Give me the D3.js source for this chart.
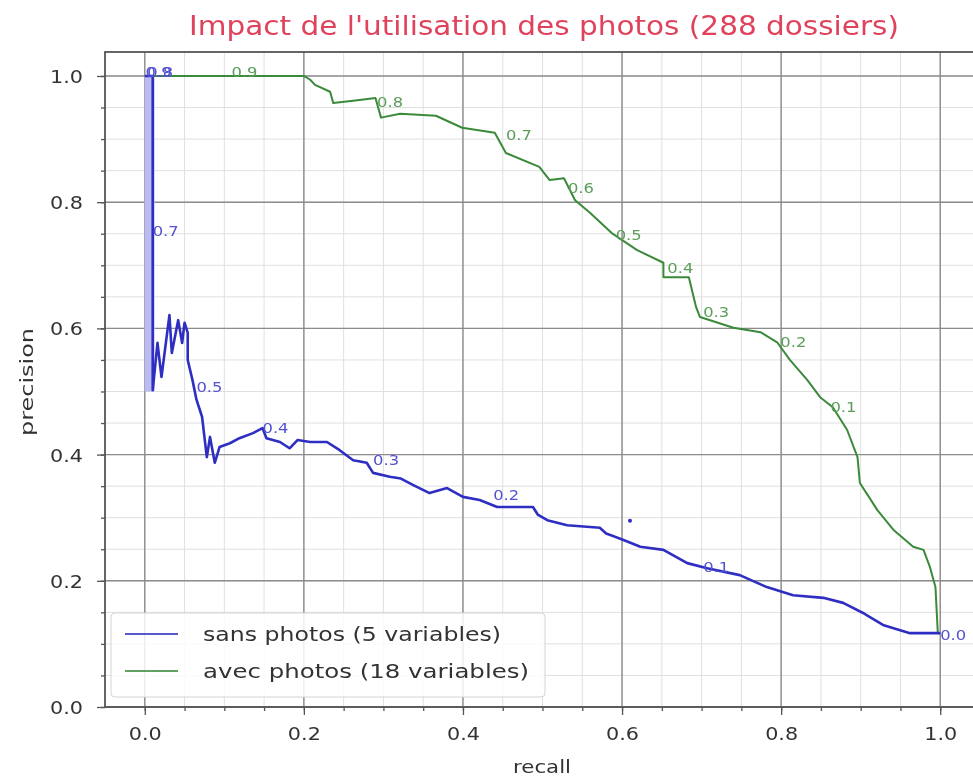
<!DOCTYPE html>
<html>

<head>
    <title>Impact photos</title>
    <meta charset="utf-8">
    <script src="https://cdn.jsdelivr.net/npm/d3@7/dist/d3.min.js"></script>
    <style>
        body { margin: 0; background: #fff; }
        text { font-family: "DejaVu Sans", sans-serif; }
    </style>
</head>

<body>
    <svg width="973" height="782"></svg>
</body>
<script>
    // courbe precision / recall, sans photos (5 variables)
    var blueRecall = [0.000, 0.010, 0.010, 0.010, 0.016, 0.021, 0.031, 0.034, 0.042, 0.047, 0.050, 0.054, 0.054, 0.060, 0.065, 0.072, 0.078, 0.082, 0.088, 0.094, 0.107, 0.119, 0.136, 0.148, 0.153, 0.170, 0.182, 0.192, 0.208, 0.229, 0.245, 0.262, 0.279, 0.287, 0.308, 0.322, 0.337, 0.358, 0.380, 0.400, 0.421, 0.443, 0.488, 0.494, 0.506, 0.531, 0.572, 0.580, 0.601, 0.623, 0.652, 0.682, 0.707, 0.748, 0.782, 0.815, 0.853, 0.878, 0.903, 0.928, 0.962, 1.000];
    var bluePrecision = [1.000, 1.000, 0.634, 0.502, 0.577, 0.523, 0.621, 0.561, 0.613, 0.577, 0.609, 0.593, 0.550, 0.518, 0.487, 0.460, 0.396, 0.428, 0.387, 0.412, 0.418, 0.426, 0.434, 0.442, 0.426, 0.420, 0.410, 0.423, 0.420, 0.420, 0.407, 0.391, 0.387, 0.371, 0.365, 0.362, 0.352, 0.339, 0.347, 0.333, 0.328, 0.317, 0.317, 0.305, 0.296, 0.288, 0.284, 0.275, 0.265, 0.254, 0.249, 0.228, 0.220, 0.209, 0.190, 0.177, 0.173, 0.165, 0.149, 0.130, 0.117, 0.117];
    // bande verticale (nombreux points superposes pres de recall = 0)
    var bandRecall = [0.006, 0.006];
    var bandPrecision = [1.000, 0.500];
    var strayRecall = [0.610];
    var strayPrecision = [0.295];

    // courbe precision / recall, avec photos (18 variables)
    var greenRecall = [0.000, 0.200, 0.208, 0.214, 0.233, 0.237, 0.270, 0.290, 0.297, 0.321, 0.366, 0.399, 0.440, 0.454, 0.496, 0.509, 0.527, 0.541, 0.560, 0.587, 0.619, 0.652, 0.652, 0.684, 0.693, 0.698, 0.740, 0.774, 0.795, 0.811, 0.833, 0.849, 0.865, 0.883, 0.896, 0.899, 0.921, 0.941, 0.966, 0.979, 0.987, 0.994, 0.997, 1.000];
    var greenPrecision = [1.000, 1.000, 0.994, 0.986, 0.975, 0.957, 0.962, 0.965, 0.934, 0.940, 0.937, 0.918, 0.910, 0.878, 0.856, 0.835, 0.838, 0.803, 0.783, 0.751, 0.724, 0.704, 0.681, 0.681, 0.634, 0.618, 0.601, 0.594, 0.578, 0.550, 0.518, 0.491, 0.475, 0.439, 0.396, 0.355, 0.312, 0.281, 0.254, 0.249, 0.222, 0.190, 0.117, 0.117];

    // seuils annotes
    var blueLabels = ["0.9", "0.8", "0.7", "0.5", "0.4", "0.3", "0.2", "0.1", "0.0"];
    var blueLabelRecall = [0.001, 0.003, 0.010, 0.065, 0.148, 0.287, 0.438, 0.702, 1.000];
    var blueLabelPrecision = [0.998, 0.998, 0.746, 0.499, 0.434, 0.384, 0.328, 0.214, 0.106];
    var greenLabels = ["0.9", "0.8", "0.7", "0.6", "0.5", "0.4", "0.3", "0.2", "0.1"];
    var greenLabelRecall = [0.109, 0.292, 0.454, 0.532, 0.592, 0.657, 0.702, 0.799, 0.862];
    var greenLabelPrecision = [0.998, 0.951, 0.899, 0.815, 0.740, 0.688, 0.618, 0.571, 0.468];

    var xTicks = [0.0, 0.2, 0.4, 0.6, 0.8, 1.0];
    var yTicks = [0.0, 0.2, 0.4, 0.6, 0.8, 1.0];
    var minorTicks = d3.range(0, 21).map(function (i) { return i * 0.05; });
    var legendNames = ["sans photos (5 variables)", "avec photos (18 variables)"];
    var legendLengths = [298, 326];

    var svg = d3.select("svg");
    var blueColor = "#2e2ec2", greenColor = "#3b8a3b";

    var defs = svg.append("defs");
    defs.append("filter").attr("id", "soft")
        .attr("x", "-5%").attr("y", "-5%").attr("width", "110%").attr("height", "110%")
        .append("feGaussianBlur").attr("stdDeviation", 0.75);

    var root = svg.append("g").attr("filter", "url(#soft)");

    var pLeft = 105, pRight = 980, pTop = 52, pBottom = 707;
    var x = d3.scaleLinear().domain([-0.05, 1.05]).range([pLeft, pRight]);
    var y = d3.scaleLinear().domain([0, 1.038]).range([pBottom, pTop]);

    // grilles mineure puis majeure
    var grid = root.append("g");
    grid.selectAll(".mx").data(minorTicks).enter().append("line")
        .attr("x1", d => x(d)).attr("x2", d => x(d)).attr("y1", pTop).attr("y2", pBottom)
        .attr("stroke", "#e0e0e0").attr("stroke-width", 1);
    grid.selectAll(".my").data(minorTicks).enter().append("line")
        .attr("y1", d => y(d)).attr("y2", d => y(d)).attr("x1", pLeft).attr("x2", pRight)
        .attr("stroke", "#e0e0e0").attr("stroke-width", 1);
    grid.selectAll(".gx").data(xTicks).enter().append("line")
        .attr("x1", d => x(d)).attr("x2", d => x(d)).attr("y1", pTop).attr("y2", pBottom)
        .attr("stroke", "#8c8c8c").attr("stroke-width", 1.4);
    grid.selectAll(".gy").data(yTicks).enter().append("line")
        .attr("y1", d => y(d)).attr("y2", d => y(d)).attr("x1", pLeft).attr("x2", pRight)
        .attr("stroke", "#8c8c8c").attr("stroke-width", 1.4);

    // courbes
    var line = d3.line().x(d => x(d[0])).y(d => y(d[1]));
    var band = d3.zip(bandRecall, bandPrecision);
    var blue = d3.zip(blueRecall, bluePrecision);
    var green = d3.zip(greenRecall, greenPrecision);

    root.append("path").datum(band).attr("d", line)
        .attr("fill", "none").attr("stroke", "#bcbcf2").attr("stroke-width", 10);
    root.append("path").datum(green).attr("d", line)
        .attr("fill", "none").attr("stroke", greenColor).attr("stroke-width", 2)
        .attr("stroke-linejoin", "round");
    root.append("path").datum(blue).attr("d", line)
        .attr("fill", "none").attr("stroke", blueColor).attr("stroke-width", 2.6)
        .attr("stroke-linejoin", "round");
    root.selectAll(".stray").data(d3.zip(strayRecall, strayPrecision)).enter().append("circle")
        .attr("cx", d => x(d[0])).attr("cy", d => y(d[1])).attr("r", 2)
        .attr("fill", blueColor);

    // annotations des seuils
    function annotate(labels, rs, ps, color) {
        root.append("g").selectAll("text").data(labels).enter().append("text")
            .attr("x", (d, i) => x(rs[i])).attr("y", (d, i) => y(ps[i]))
            .attr("font-size", 14).attr("textLength", 26).attr("lengthAdjust", "spacingAndGlyphs")
            .attr("fill", color).text(d => d);
    }
    annotate(blueLabels, blueLabelRecall, blueLabelPrecision, "#5252cf");
    annotate(greenLabels, greenLabelRecall, greenLabelPrecision, "#5a9e5a");

    // axes
    root.append("g").attr("transform", "translate(0," + pBottom + ")")
        .call(d3.axisBottom(x).tickValues(xTicks).tickFormat(d3.format(".1f")).tickSize(8).tickPadding(12));
    root.append("g").attr("transform", "translate(0," + pBottom + ")")
        .call(d3.axisBottom(x).tickValues(minorTicks).tickFormat("").tickSize(4));
    var yAxis = root.append("g").attr("transform", "translate(" + pLeft + ",0)")
        .call(d3.axisLeft(y).tickValues(yTicks).tickFormat(d3.format(".1f")).tickSize(8).tickPadding(14));
    root.append("g").attr("transform", "translate(" + pLeft + ",0)")
        .call(d3.axisLeft(y).tickValues(minorTicks).tickFormat("").tickSize(4));
    root.selectAll(".domain").remove();
    root.selectAll(".tick line").attr("stroke", "#555").attr("stroke-width", 1.3);
    root.selectAll(".tick text").attr("font-size", 18).attr("fill", "#333")
        .attr("textLength", 33).attr("lengthAdjust", "spacingAndGlyphs");
    yAxis.selectAll(".tick text").attr("dy", "0.36em");

    // cadre
    root.append("rect").attr("x", pLeft).attr("y", pTop)
        .attr("width", pRight - pLeft).attr("height", pBottom - pTop)
        .attr("fill", "none").attr("stroke", "#555").attr("stroke-width", 1.8);

    // legende
    var lg = root.append("g");
    lg.append("rect").attr("x", 111).attr("y", 613).attr("width", 434).attr("height", 84).attr("rx", 4)
        .attr("fill", "#fff").attr("fill-opacity", 0.85).attr("stroke", "#d4d4d4");
    var items = lg.selectAll(".item").data(legendNames).enter().append("g")
        .attr("transform", (d, i) => "translate(0," + (634 + i * 37) + ")");
    items.append("line").attr("x1", 125).attr("x2", 178)
        .attr("stroke", (d, i) => i === 0 ? blueColor : greenColor).attr("stroke-width", 2.2)
        .attr("stroke-opacity", 0.8);
    items.append("text").attr("x", 203).attr("dy", "0.35em").attr("font-size", 19)
        .attr("textLength", (d, i) => legendLengths[i]).attr("lengthAdjust", "spacingAndGlyphs")
        .attr("fill", "#333").text(d => d);

    // titres
    root.append("text").attr("x", 544).attr("y", 35).attr("text-anchor", "middle")
        .attr("font-size", 26).attr("textLength", 710).attr("lengthAdjust", "spacingAndGlyphs")
        .attr("fill", "#e0435c").text("Impact de l'utilisation des photos (288 dossiers)");
    root.append("text").attr("x", 542).attr("y", 773).attr("text-anchor", "middle")
        .attr("font-size", 18).attr("textLength", 58).attr("lengthAdjust", "spacingAndGlyphs")
        .attr("fill", "#333").text("recall");
    root.append("text").attr("transform", "translate(33,382) rotate(-90)").attr("text-anchor", "middle")
        .attr("font-size", 18).attr("textLength", 108).attr("lengthAdjust", "spacingAndGlyphs")
        .attr("fill", "#333").text("precision");
</script>

</html>
